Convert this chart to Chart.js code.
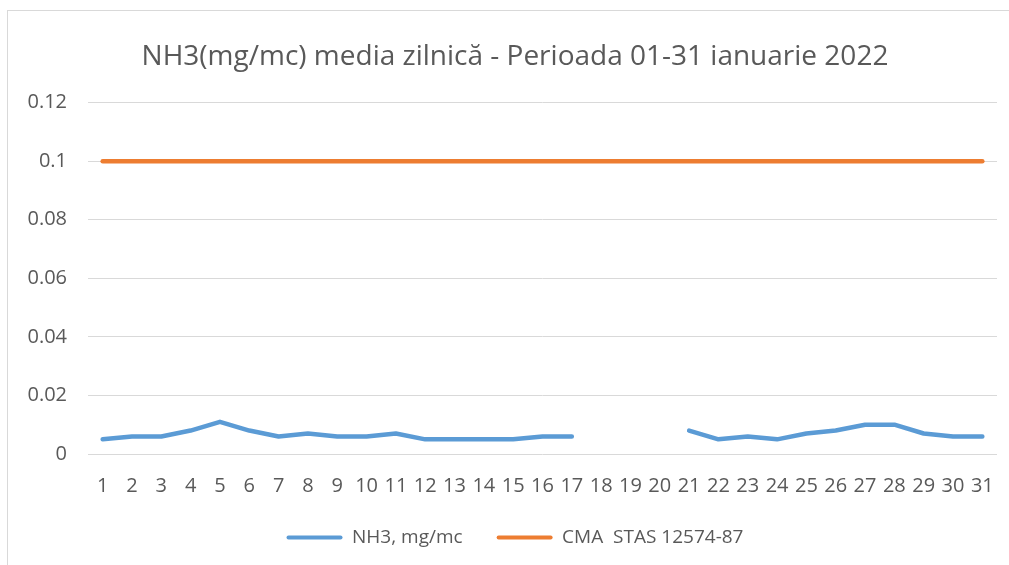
<!DOCTYPE html>
<html>
<head>
<meta charset="utf-8">
<script src="https://cdn.jsdelivr.net/npm/chart.js"></script>
<style>
  html, body { margin: 0; padding: 0; background: #fff; overflow: hidden; width: 1009px; height: 565px; }
  #frame { position: absolute; left: 7px; top: 10px; width: 1014px; height: 560px; border: 1px solid #d9d9d9; }
  canvas { display: block; }
</style>
</head>
<body>
<div id="frame"><canvas id="nh3Chart" width="1014" height="554"></canvas></div>
<script>
// NH3 daily average, January 2022

const days = ['1','2','3','4','5','6','7','8','9','10','11','12','13','14','15','16',
              '17','18','19','20','21','22','23','24','25','26','27','28','29','30','31'];

const nh3Values = [0.005, 0.006, 0.006, 0.008, 0.011, 0.008, 0.006, 0.007, 0.006, 0.006,
                   0.007, 0.005, 0.005, 0.005, 0.005, 0.006, 0.006, null, null, null,
                   0.008, 0.005, 0.006, 0.005, 0.007, 0.008, 0.010, 0.010, 0.007, 0.006, 0.006];

const cmaValues = [0.1, 0.1, 0.1, 0.1, 0.1, 0.1, 0.1, 0.1, 0.1, 0.1,
                   0.1, 0.1, 0.1, 0.1, 0.1, 0.1, 0.1, 0.1, 0.1, 0.1,
                   0.1, 0.1, 0.1, 0.1, 0.1, 0.1, 0.1, 0.1, 0.1, 0.1, 0.1];

const yTickLabels = ['0', '0.02', '0.04', '0.06', '0.08', '0.1', '0.12'];

const txtColor = '#595959';
const fontName = "'Open Sans', sans-serif";

const ctx = document.getElementById('nh3Chart');

new Chart(ctx, {
    type: 'line',
    data: {
        labels: days,
        datasets: [{
            label: 'NH3, mg/mc',
            data: nh3Values,
            borderColor: '#5b9bd5',
            backgroundColor: '#5b9bd5',
            borderWidth: 4.5,
            borderCapStyle: 'round',
            borderJoinStyle: 'round',
            pointRadius: 0,
            spanGaps: false
        }, {
            label: 'CMA  STAS 12574-87',
            data: cmaValues,
            borderColor: '#ed7d31',
            backgroundColor: '#ed7d31',
            borderWidth: 4.5,
            borderCapStyle: 'round',
            pointRadius: 0
        }]
    },
    options: {
        responsive: false,
        animation: false,
        devicePixelRatio: 1,
        layout: { padding: { left: 0, right: 0, top: 0, bottom: 8 } },
        plugins: {
            tooltip: { enabled: false },
            title: {
                display: true,
                text: 'NH3(mg/mc) media zilnică - Perioada 01-31 ianuarie 2022',
                color: txtColor,
                font: { family: fontName, size: 28, weight: 'normal', lineHeight: 1.2 },
                padding: { top: 29, bottom: 29 }
            },
            legend: {
                position: 'bottom',
                labels: {
                    color: txtColor,
                    font: { family: fontName, size: 19 },
                    boxWidth: 56,
                    boxHeight: 4,
                    padding: 34,
                    generateLabels: function (chart) {
                        return chart.data.datasets.map(function (ds, i) {
                            return {
                                text: ds.label,
                                fillStyle: ds.borderColor,
                                strokeStyle: ds.borderColor,
                                lineWidth: 0,
                                borderRadius: 2,
                                fontColor: txtColor,
                                hidden: false,
                                datasetIndex: i
                            };
                        });
                    }
                }
            }
        },
        scales: {
            x: {
                offset: true,
                grid: { display: false },
                border: { display: false },
                ticks: {
                    color: txtColor,
                    font: { family: fontName, size: 20 },
                    padding: 12,
                    maxRotation: 0,
                    autoSkip: false
                },
                afterFit: function (scale) { scale.height = 40; }
            },
            y: {
                min: 0,
                max: 0.12,
                grid: { color: '#d9d9d9', lineWidth: 1, drawTicks: false },
                border: { display: false },
                ticks: {
                    stepSize: 0.02,
                    color: txtColor,
                    font: { family: fontName, size: 20 },
                    padding: 21,
                    callback: function (value, index) { return yTickLabels[index]; }
                },
                afterFit: function (scale) { scale.width = 80; }
            },
            yRight: {
                position: 'right',
                display: true,
                grid: { display: false },
                border: { display: false },
                ticks: { display: false },
                afterFit: function (scale) { scale.width = 25; }
            }
        }
    }
});
</script>
</body>
</html>
